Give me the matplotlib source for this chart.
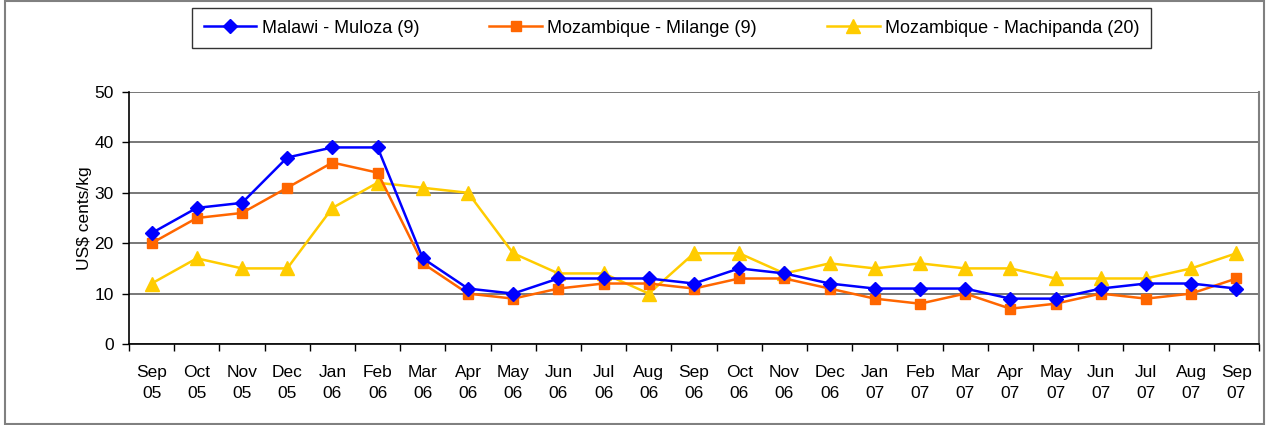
import numpy as np
import matplotlib
matplotlib.use('Agg')
import matplotlib.pyplot as plt
from matplotlib.patches import Rectangle

plt.rcParams['font.family'] = ['Liberation Sans', 'DejaVu Sans']

# Month labels (two lines: month / year)
months = ['Sep\n05', 'Oct\n05', 'Nov\n05', 'Dec\n05', 'Jan\n06', 'Feb\n06', 'Mar\n06',
          'Apr\n06', 'May\n06', 'Jun\n06', 'Jul\n06', 'Aug\n06', 'Sep\n06', 'Oct\n06',
          'Nov\n06', 'Dec\n06', 'Jan\n07', 'Feb\n07', 'Mar\n07', 'Apr\n07', 'May\n07',
          'Jun\n07', 'Jul\n07', 'Aug\n07', 'Sep\n07']

muloza = [22, 27, 28, 37, 39, 39, 17, 11, 10, 13, 13, 13, 12, 15,
          14, 12, 11, 11, 11, 9, 9, 11, 12, 12, 11]
milange = [20, 25, 26, 31, 36, 34, 16, 10, 9, 11, 12, 12, 11, 13,
           13, 11, 9, 8, 10, 7, 8, 10, 9, 10, 13]
machipanda = [12, 17, 15, 15, 27, 32, 31, 30, 18, 14, 14, 10, 18, 18,
              14, 16, 15, 16, 15, 15, 13, 13, 13, 15, 18]

fig = plt.figure(figsize=(12.72, 4.25), dpi=100)
ax = fig.add_axes([129 / 1272, 1 - 344 / 425, (1259 - 129) / 1272, (344 - 92) / 425])

x = np.arange(len(months))
ax.plot(x, muloza, color='#0000FF', marker='D', markersize=7.5, lw=1.8,
        label='Malawi - Muloza (9)', zorder=5)
ax.plot(x, milange, color='#FF6600', marker='s', markersize=7.5, lw=1.8,
        label='Mozambique - Milange (9)', zorder=4)
ax.plot(x, machipanda, color='#FFCC00', marker='^', markersize=9.5, lw=1.8,
        label='Mozambique - Machipanda (20)', zorder=3)

ax.set_xlim(-0.5, len(months) - 0.5)
ax.set_ylim(0, 50)
ax.set_yticks([0, 10, 20, 30, 40, 50])
ax.yaxis.grid(True, color='#606060', lw=1.2)
ax.set_axisbelow(True)

ax.set_xticks(x)
ax.set_xticklabels(months, fontsize=12.5, linespacing=1.5)
ax.set_xticks(np.arange(-0.5, len(months)), minor=True)
ax.tick_params(axis='x', which='major', length=0, pad=15)
ax.tick_params(axis='x', which='minor', length=5, width=1, color='black', direction='out')
ax.tick_params(axis='y', labelsize=12.5, length=5, width=1, direction='out', pad=6)

ax.spines['top'].set_visible(False)
ax.spines['right'].set_color('#808080')
ax.spines['right'].set_linewidth(1.5)
ax.spines['left'].set_linewidth(1.2)
ax.spines['bottom'].set_linewidth(1.2)

ax.set_ylabel('US$ cents/kg', fontsize=12.5, labelpad=2)

leg = fig.legend(loc='upper left', bbox_to_anchor=(192 / 1272, 1 - 8 / 425), ncol=3,
                 fontsize=13, frameon=True, fancybox=False, edgecolor='black',
                 handlelength=2.9, handletextpad=0.3, columnspacing=3.9,
                 borderpad=0.65, borderaxespad=0)
leg.get_frame().set_linewidth(1.0)

# outer border around the whole chart
fig.patches.append(Rectangle((5 / 1272, 0.002), 0.994 - 5 / 1272, 0.995,
                             transform=fig.transFigure,
                             fill=False, edgecolor='#808080', lw=1.5))

fig.savefig('out.png', dpi=100)
